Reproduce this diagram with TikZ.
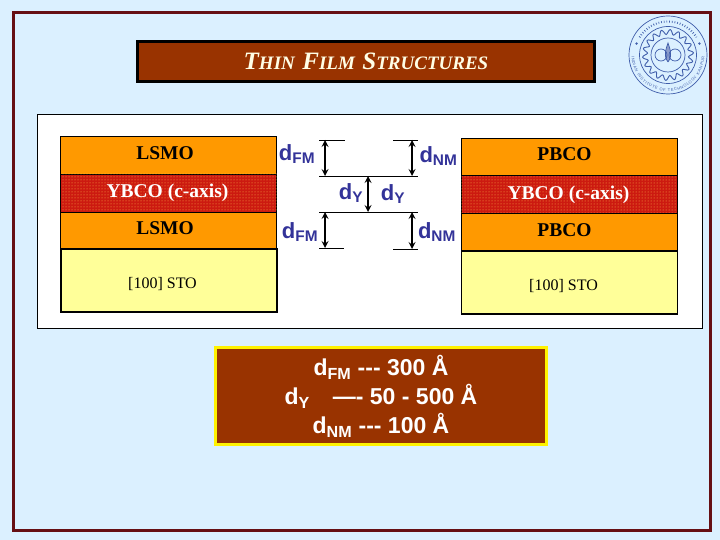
\documentclass[tikz,border=0pt]{standalone}
\usepackage{fontspec}
\setmainfont{Liberation Serif}
\newfontfamily\dimfont{Liberation Sans}
\usepackage{xcolor}
\usetikzlibrary{positioning,patterns,decorations.text}
\definecolor{pagebg}{HTML}{DBF0FF}
\definecolor{framered}{HTML}{660F14}
\definecolor{brownbox}{HTML}{993300}
\definecolor{layerorange}{HTML}{FF9900}
\definecolor{layerred}{HTML}{CC1A10}
\definecolor{stoyellow}{HTML}{FFFF99}
\definecolor{dimblue}{HTML}{333399}
\definecolor{logoblue}{HTML}{3F5DAA}
\newcommand{\dsub}[1]{d\textsubscript{#1}}
\newcommand{\titlecaps}[2]{{\fontsize{25}{27}\selectfont #1}{\fontsize{19}{27}\selectfont #2}}

\begin{document}
\begin{tikzpicture}[
            x=1pt, y=-1pt,
            node distance=0pt,
            layer/.style={rectangle, draw, line width=0.7pt, outer sep=0pt, minimum width=216pt},
            fmlayer/.style={layer, fill=layerorange, minimum height=38pt},
            ybco/.style={layer, fill=layerred, minimum height=38pt,
                postaction={pattern=dots, pattern color=layerorange!70}},
            sto/.style={layer, fill=stoyellow, minimum height=63pt, line width=2pt},
            layertext/.style={font=\fontsize{19.5}{22}\selectfont\bfseries},
            stotext/.style={font=\fontsize{16}{18}\selectfont},
            brownpanel/.style={rectangle, fill=brownbox, outer sep=0pt},
            dimlabel/.style={text=dimblue, font=\dimfont\bfseries\fontsize{22}{24}\selectfont},
            tick/.style={line width=0.9pt},
            dimarrow/.style={<->, >=stealth, line width=2pt},
            logoline/.style={draw=logoblue, line width=0.7pt}
        ]
            \useasboundingbox (0,0) rectangle (720,540);
            \fill[pagebg] (0,0) rectangle (720,540);
            \node[rectangle, draw=framered, line width=3pt, minimum width=697pt, minimum height=517pt, anchor=north west] (frame) at (11.5,11.5) {};

            % title and panel
            \node[brownpanel, draw=black, line width=3.5pt, minimum width=457pt, minimum height=40pt, text=white!90!yellow, font=\bfseries\itshape] (title) at (366,61.5)
                {\titlecaps{T}{HIN}\hspace{5pt} \titlecaps{F}{ILM}\hspace{5pt} \titlecaps{S}{TRUCTURES}};
            \node[rectangle, draw=black, line width=0.7pt, fill=white, minimum width=665pt, minimum height=213pt, anchor=north west] (panel) at (36.5,114.5) {};

            % left stack
            \node[fmlayer, anchor=north west, label={[xshift=-3.5pt, yshift=2pt, layertext]center:LSMO}] (lsmoA) at (60.5,136) {};
            \node[ybco, below=of lsmoA, label={[xshift=-1pt, yshift=0pt, text=white, layertext]center:YBCO (c-axis)}] (ybcoA) {};
            \node[fmlayer, below=of ybcoA, minimum height=37pt, label={[xshift=-3.5pt, yshift=2pt, layertext]center:LSMO}] (lsmoB) {};
            \node[sto, below=of lsmoB, label={[xshift=-6pt, yshift=-4pt, stotext]center:[100] STO}] (stoA) {};

            % right stack
            \node[fmlayer, minimum height=37pt, anchor=north west, label={[xshift=-5pt, yshift=2pt, layertext]center:PBCO}] (pbcoA) at (461.5,138) {};
            \node[ybco, below=of pbcoA, label={[xshift=-1pt, yshift=-1pt, text=white, layertext]center:YBCO (c-axis)}] (ybcoB) {};
            \node[fmlayer, below=of ybcoB, label={[xshift=-5pt, yshift=2pt, layertext]center:PBCO}] (pbcoB) {};
            \node[sto, below=of pbcoB, line width=1.4pt, label={[xshift=-6pt, yshift=-4pt, stotext]center:[100] STO}] (stoB) {};

            % thickness marks
            \coordinate (fmTopL) at (319,140);
            \coordinate (fmTopR) at (345,140);
            \coordinate (fmTopA) at (325,140);
            \coordinate (midUpL) at (319,176);
            \coordinate (midUpR) at (418,176);
            \coordinate (fmUpA) at (325,176);
            \coordinate (nmUpA) at (412,176);
            \coordinate (yA) at (368,176);
            \coordinate (midLoL) at (319,212);
            \coordinate (midLoR) at (418,212);
            \coordinate (fmLoA) at (325,212);
            \coordinate (nmLoA) at (412,212);
            \coordinate (yB) at (368,212);
            \coordinate (fmBotL) at (319,248);
            \coordinate (fmBotR) at (344,248);
            \coordinate (fmBotA) at (325,248);
            \coordinate (nmTopL) at (393,140);
            \coordinate (nmTopR) at (418,140);
            \coordinate (nmTopA) at (412,140);
            \coordinate (nmBotL) at (393,249);
            \coordinate (nmBotR) at (418,249);
            \coordinate (nmBotA) at (412,249);

            \draw[tick] (fmTopL) -- (fmTopR);
            \draw[tick] (midUpL) -- (midUpR);
            \draw[tick] (midLoL) -- (midLoR);
            \draw[tick] (fmBotL) -- (fmBotR);
            \draw[tick] (nmTopL) -- (nmTopR);
            \draw[tick] (nmBotL) -- (nmBotR);
            \draw[dimarrow] (fmTopA) -- (fmUpA);
            \draw[dimarrow] (fmLoA) -- (fmBotA);
            \draw[dimarrow] (nmTopA) -- (nmUpA);
            \draw[dimarrow] (nmLoA) -- (nmBotA);
            \draw[dimarrow] (yA) -- (yB);

            \node[dimlabel] (dfmA) at (297,154) {\dsub{FM}};
            \node[dimlabel] (dfmB) at (300,232) {\dsub{FM}};
            \node[dimlabel] (dyA) at (351,193) {\dsub{Y}};
            \node[dimlabel] (dyB) at (393,194) {\dsub{Y}};
            \node[dimlabel] (dnmA) at (438.5,156) {\dsub{NM}};
            \node[dimlabel] (dnmB) at (437,232) {\dsub{NM}};

            % values
            \node[brownpanel, draw=yellow, line width=3.5pt, minimum width=331pt, minimum height=97pt, text=white, align=center, font=\dimfont\bfseries\fontsize{23}{29}\selectfont] (values) at (381,396)
                {\dsub{FM} {-}{-}{-} 300 Å\\ \dsub{Y}\hspace{23pt}—{-} 50 - 500 Å\\ \dsub{NM} {-}{-}{-} 100 Å};

            % logo
            \coordinate (logoc) at (668,55);
            \begin{scope}[shift={(logoc)}, y=1pt]
                \draw[logoline] (0,0) circle (39);
                \draw[logoline] (0,0) circle (28.5);
                \draw[logoline] (0,0) circle (17);
                \draw[logoline, line width=0.9pt] plot[domain=0:360, samples=145, smooth] ({(23+2.5*sin(18*\x))*cos(\x)},{(23+2.5*sin(18*\x))*sin(\x)});
                \fill[logoblue] (20:33.5) circle (1.3);
                \fill[logoblue] (160:33.5) circle (1.3);
                \draw[logoline, dotted, line width=2pt] (148:33.5) arc (148:32:33.5);
                \path[decorate, decoration={text along path, text align={fit to path}, text={|\dimfont\fontsize{4}{5}\selectfont\color{logoblue}|INDIAN INSTITUTE OF TECHNOLOGY KANPUR}}] (182:36.5) arc (182:358:36.5);
                \draw[logoline, fill=logoblue!60] (0,-7) .. controls (-5,0) and (-2,6) .. (0,12) .. controls (2,6) and (5,0) .. (0,-7);
                \draw[logoline] (-7,0) circle (6);
                \draw[logoline] (7,0) circle (6);
            \end{scope}
        \end{tikzpicture}
\end{document}
